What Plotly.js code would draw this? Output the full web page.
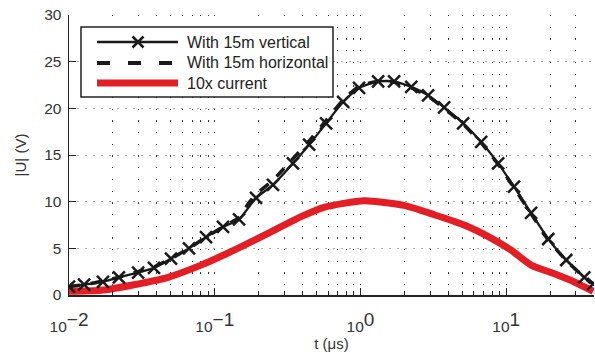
<!DOCTYPE html>
<html>
<head>
<meta charset="utf-8">
<script src="https://cdn.plot.ly/plotly-3.0.1.min.js"></script>
<style>html,body{margin:0;padding:0;background:#fff;}#chart{width:595px;height:354px;}</style>
</head>
<body>
<div id="chart"></div>
<script>
// time axis values (µs)
const tVert = [0.01, 0.0127, 0.0171, 0.022, 0.0298, 0.0383, 0.0501, 0.0666, 0.0871, 0.114, 0.1468, 0.192, 0.251, 0.344, 0.444, 0.581, 0.760, 0.977, 1.321, 1.70, 2.23, 2.91, 3.75, 5.06, 6.73, 8.80, 11.3, 14.8, 19.4, 25.8, 34.3, 39.5];
const uVert = [0.9, 1.1, 1.4, 1.9, 2.4, 2.9, 3.9, 5.0, 6.2, 7.3, 8.1, 10.4, 11.8, 14.1, 16.1, 18.4, 20.7, 22.2, 22.9, 22.9, 22.3, 21.4, 20.1, 18.4, 16.4, 14.1, 11.6, 8.8, 6.0, 3.75, 1.9, 1.2];
const tHoriz = [0.01, 0.0127, 0.0171, 0.022, 0.0298, 0.0383, 0.0501, 0.0666, 0.0871, 0.114, 0.1468, 0.17, 0.192, 0.251, 0.344, 0.444, 0.581, 0.760, 0.977, 1.321, 1.70, 2.23, 2.91, 3.75, 5.06, 6.73, 8.80, 11.3, 14.8, 19.4, 25.8, 34.3, 39.5];
const uHoriz = [0.9, 1.1, 1.5, 1.9, 2.5, 3.0, 3.9, 5.0, 6.2, 7.3, 8.3, 9.8, 10.8, 12.3, 14.6, 16.5, 18.7, 20.9, 22.4, 22.9, 22.8, 22.2, 21.3, 20.0, 18.3, 16.3, 14.0, 11.5, 8.7, 5.9, 3.7, 1.9, 1.2];
const tCur = [0.01, 0.0166, 0.0279, 0.0478, 0.0805, 0.1357, 0.232, 0.391, 0.562, 1.06, 1.99, 3.20, 5.14, 7.87, 10.8, 14.8, 20.3, 29.3, 39.5];
const uCur = [0.4, 0.5, 1.1, 1.9, 3.2, 4.8, 6.6, 8.4, 9.4, 10.1, 9.6, 8.6, 7.5, 6.1, 4.8, 3.2, 2.4, 1.4, 0.4];
// labels
const seriesNames = ['With 15m vertical', 'With 15m horizontal', '10x current'];
const xTickVals = [0.01, 0.1, 1, 10];
const xExponents = ['\u22122', '\u22121', '0', '1'];
const yTickVals = [0, 5, 10, 15, 20, 25, 30];
const xTitle = 't (\u03bcs)';
const yTitle = '|U| (V)';

const xTickText = xExponents.map(e => '10<sup><span style="font-size:19px">' + e + '</span></sup>');
const minorVals = [];
[0.01, 0.1, 1, 10].forEach(d => { for (let k = 2; k <= 9; k++) minorVals.push(d * k); });

const BLACK = '#1a1a1a', RED = '#e31e24';
const styles = [
  {color: BLACK, width: 2.3, dash: 'solid', marker: true},
  {color: BLACK, width: 3.8, dash: '13px,18px', marker: false},
  {color: RED, width: 7, dash: 'solid', marker: false}
];

const traces = [
  {x: tCur, y: uCur, name: seriesNames[2], mode: 'lines', line: {color: RED, width: styles[2].width, shape: 'spline', smoothing: 0.6}},
  {x: tHoriz, y: uHoriz, name: seriesNames[1], mode: 'lines', line: {color: BLACK, width: 3.5, dash: '11px,11px', shape: 'spline', smoothing: 0.4}},
  {x: tVert, y: uVert, name: seriesNames[0], mode: 'lines+markers', line: {color: BLACK, width: 2.3, shape: 'spline', smoothing: 0.4},
   marker: {symbol: 'x-thin-open', size: 12, color: BLACK, line: {width: 2.5, color: BLACK}}}
];

// manual legend box (pixel -> paper helper)
const M = {l: 69, r: 1, t: 15, b: 59}, W = 595, H = 354;
const pw = W - M.l - M.r, ph = H - M.t - M.b;
const px = x => (x - M.l) / pw;
const py = y => (H - M.b - y) / ph;
const shapes = [{type: 'rect', xref: 'paper', yref: 'paper', x0: px(81), x1: px(333), y0: py(97), y1: py(27),
                 line: {color: '#222', width: 1.5}, fillcolor: '#fff', layer: 'above'}];
const annotations = [];
const rowY = [42, 63, 83];
seriesNames.forEach((n, i) => {
  const s = styles[i];
  shapes.push({type: 'line', xref: 'paper', yref: 'paper', x0: px(97), x1: px(178), y0: py(rowY[i]), y1: py(rowY[i]),
               line: {color: s.color, width: s.width, dash: s.dash}, layer: 'above'});
  if (s.marker) {
    shapes.push({type: 'line', xref: 'paper', yref: 'paper', x0: px(132.5), x1: px(143.5), y0: py(rowY[i] - 5.5), y1: py(rowY[i] + 5.5),
                 line: {color: s.color, width: 2.5}, layer: 'above'});
    shapes.push({type: 'line', xref: 'paper', yref: 'paper', x0: px(132.5), x1: px(143.5), y0: py(rowY[i] + 5.5), y1: py(rowY[i] - 5.5),
                 line: {color: s.color, width: 2.5}, layer: 'above'});
  }
  annotations.push({xref: 'paper', yref: 'paper', x: px(185), y: py(rowY[i]), xanchor: 'left', yanchor: 'middle',
                    text: n, showarrow: false, font: {size: 16, color: '#222'}});
});

const layout = {
  width: W, height: H,
  margin: M,
  paper_bgcolor: '#fff', plot_bgcolor: '#fff',
  font: {family: 'Liberation Sans, Arial, sans-serif', size: 14, color: '#333'},
  showlegend: false,
  shapes: shapes,
  annotations: annotations,
  xaxis: {
    type: 'log', range: [-2, Math.log10(40)], tickmode: 'array', tickvals: xTickVals, ticktext: xTickText,
    ticks: 'inside', ticklen: 7, tickwidth: 1, tickcolor: '#222',
    showline: true, linecolor: '#222', linewidth: 1.5, mirror: false,
    showgrid: true, gridcolor: '#333', gridwidth: 1, griddash: '1.3px,10.4px',
    zeroline: false, ticklabelstandoff: 17,
    tickfont: {size: 15.5, color: '#333'},
    minor: {tickmode: 'array', tickvals: minorVals, ticks: 'inside', ticklen: 4, tickcolor: '#222',
            showgrid: true, gridcolor: '#333', gridwidth: 1, griddash: '1.3px,10.4px'},
    title: {text: xTitle, font: {size: 15, color: '#333'}, standoff: 0}
  },
  yaxis: {
    range: [0, 30], tickmode: 'array', tickvals: yTickVals,
    ticks: 'inside', ticklen: 7, tickwidth: 1, tickcolor: '#222',
    showline: true, linecolor: '#222', linewidth: 1.5,
    showgrid: true, gridcolor: '#aaa', gridwidth: 1, griddash: '2px,6px',
    zeroline: false, ticklabelstandoff: 3,
    tickfont: {size: 15.5, color: '#333'},
    title: {text: yTitle, font: {size: 15, color: '#333'}, standoff: 14}
  }
};

Plotly.newPlot('chart', traces, layout, {displayModeBar: false, staticPlot: true});
</script>
</body>
</html>
